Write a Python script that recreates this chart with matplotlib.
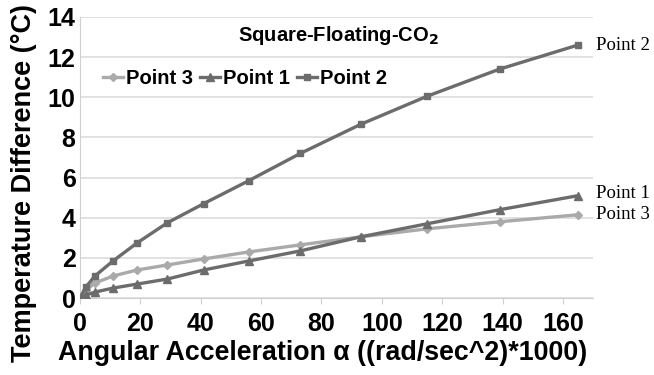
import matplotlib
matplotlib.use("Agg")
import matplotlib.pyplot as plt

# values
accel = [0, 2, 5, 11, 19, 29, 41, 56, 73, 93, 115, 139, 165]
point1 = [0, 0.15, 0.3, 0.5, 0.7, 0.95, 1.4, 1.85, 2.35, 3.05, 3.7, 4.4, 5.1]
point2 = [0, 0.55, 1.1, 1.85, 2.75, 3.75, 4.7, 5.85, 7.2, 8.65, 10.05, 11.4, 12.6]
point3 = [0, 0.4, 0.75, 1.1, 1.4, 1.65, 1.95, 2.3, 2.65, 3.05, 3.45, 3.8, 4.15]
yticks = [0, 2, 4, 6, 8, 10, 12, 14]
xticks = [0, 20, 40, 60, 80, 100, 120, 140, 160]

plt.rcParams['font.family'] = ['Liberation Sans', 'DejaVu Sans']

fig = plt.figure(figsize=(6.54, 3.75), dpi=100)
ax = fig.add_axes([0.122, 0.205, 0.785, 0.75])

ax.plot(accel, point3, color='#aaaaaa', lw=2.4, marker='D', ms=4.5, label='Point 3', zorder=3)
ax.plot(accel, point1, color='#6c6c6c', lw=2.4, marker='^', ms=6, label='Point 1', zorder=4)
ax.plot(accel, point2, color='#6c6c6c', lw=2.4, marker='s', ms=4.5, label='Point 2', zorder=5)

ax.set_xlim(0, 170)
ax.set_ylim(0, 14)
ax.set_xticks(xticks)
ax.set_yticks(yticks)
ax.tick_params(axis='both', labelsize=18, colors='black', width=0.8)
ax.tick_params(axis='y', length=0, pad=3)
ax.tick_params(axis='x', length=4, color='#d0d0d0', pad=6)
for lbl in ax.get_xticklabels() + ax.get_yticklabels():
    lbl.set_fontweight('bold')

ax.grid(axis='y', color='#dcdcdc', lw=1.2)
ax.set_axisbelow(True)
for s in ['top', 'right']:
    ax.spines[s].set_visible(False)
ax.spines['left'].set_color('#d0d0d0')
ax.spines['bottom'].set_color('#d0d0d0')

ax.set_xlabel('Angular Acceleration α ((rad/sec^2)*1000)', fontsize=19.3,
              fontweight='bold')
ax.set_ylabel('Temperature Difference (°C)', fontsize=19.5, fontweight='bold')
ax.xaxis.set_label_coords(0.473, -0.15)
ax.yaxis.set_label_coords(-0.084, 0.409)

ax.text(0.503, 0.935, 'Square-Floating-CO$_\\mathbf{2}$', transform=ax.transAxes,
        ha='center', va='center', fontsize=14.5, fontweight='bold')

leg = ax.legend(loc='upper left', bbox_to_anchor=(0.017, 0.865), ncol=3, frameon=False,
                fontsize=14.5, handlelength=1.0, handletextpad=0.15, columnspacing=0.35,
                borderaxespad=0.3)
for t in leg.get_texts():
    t.set_fontweight('bold')

# end labels to the right of the plot
for name, vals, dy in [('Point 2', point2, 0.0), ('Point 1', point1, 0.1),
                       ('Point 3', point3, 0.0)]:
    ax.annotate(name, xy=(accel[-1], vals[-1] + dy), xytext=(13, 0),
                textcoords='offset points', va='center', ha='left',
                fontsize=13.5, family='Liberation Serif', annotation_clip=False)

fig.savefig('out.png', dpi=100)
